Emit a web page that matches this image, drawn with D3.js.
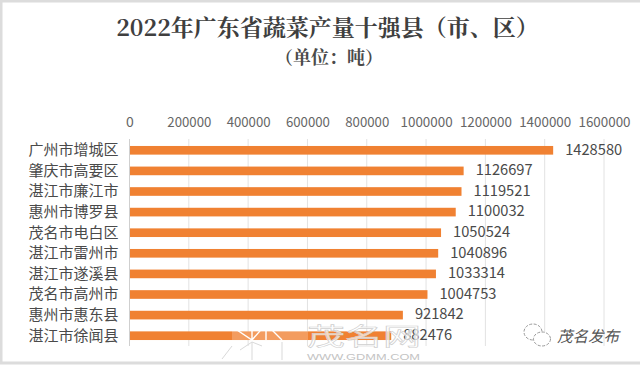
<!DOCTYPE html>
<html>
<head>
<meta charset="utf-8">
<script src="https://cdnjs.cloudflare.com/ajax/libs/d3/7.8.5/d3.min.js"></script>
<style>
html, body { margin: 0; padding: 0; background: #fff; }
svg { display: block; }
</style>
</head>
<body>
<script>
const counties = ["广州市增城区", "肇庆市高要区", "湛江市廉江市", "惠州市博罗县", "茂名市电白区", "湛江市雷州市", "湛江市遂溪县", "茂名市高州市", "惠州市惠东县", "湛江市徐闻县"];
const output = [1428580, 1126697, 1119521, 1100032, 1050524, 1040896, 1033314, 1004753, 921842, 882476];
const xTicks = [0, 200000, 400000, 600000, 800000, 1000000, 1200000, 1400000, 1600000];

const width = 640;
const height = 365;
const sans = "'Noto Sans CJK SC', sans-serif";
const serif = "'Noto Serif CJK SC', 'Noto Sans CJK SC', serif";
const barColor = "#f08132";
const textColor = "#4a4a4a";

const svg = d3.select("body").append("svg")
    .attr("width", width)
    .attr("height", height);

// 外枠 (上・左・下のみ)
svg.append("path")
    .attr("d", `M${width},1H1V${height - 2}H${width}`)
    .attr("fill", "none")
    .attr("stroke", "#dcdcdc")
    .attr("stroke-width", 3);

// タイトル
svg.append("text")
    .attr("x", 327.5).attr("y", 36)
    .attr("text-anchor", "middle")
    .attr("font-family", serif)
    .attr("font-size", 23)
    .attr("font-weight", 700)
    .attr("fill", "#3f3f3f")
    .text("2022年广东省蔬菜产量十强县（市、区）");
svg.append("text")
    .attr("x", 329).attr("y", 64)
    .attr("text-anchor", "middle")
    .attr("font-family", serif)
    .attr("font-size", 18)
    .attr("font-weight", 700)
    .attr("fill", "#4a4a4a")
    .text("（单位：吨）");

// スケール
const xScale = d3.scaleLinear().domain([0, 1600000]).range([129.5, 604]);
const yScale = d3.scaleBand().domain(counties).range([140, 346]).paddingInner(0.58).paddingOuter(0.29);

// 軸
const xAxis = d3.axisTop(xScale).tickValues(xTicks).tickFormat(d3.format("d")).tickSize(0).tickPadding(0);
const gx = svg.append("g")
    .attr("transform", "translate(0,127)")
    .call(xAxis);
gx.select(".domain").remove();
gx.selectAll("text")
    .attr("font-family", sans)
    .attr("font-size", 14)
    .attr("fill", "#666")
    .attr("textLength", d => d === 0 ? null : (d >= 1000000 ? 52 : 44))
    .attr("lengthAdjust", "spacingAndGlyphs");

// グリッド線
svg.append("g").selectAll("line")
    .data(xTicks)
    .join("line")
    .attr("x1", d => xScale(d)).attr("x2", d => xScale(d))
    .attr("y1", 139).attr("y2", 346)
    .attr("stroke", d => d === 0 ? "#cfcfcf" : "#e2e2e2")
    .attr("stroke-width", 1);

// 棒
svg.append("g").selectAll("rect")
    .data(output)
    .join("rect")
    .attr("x", xScale(0) + 0.5)
    .attr("y", (d, i) => yScale(counties[i]))
    .attr("width", d => xScale(d) - xScale(0) - 0.5)
    .attr("height", yScale.bandwidth())
    .attr("fill", barColor);

// カテゴリラベル
const yAxis = d3.axisLeft(yScale).tickSize(0).tickPadding(11);
const gy = svg.append("g")
    .attr("transform", `translate(${xScale(0)},0)`)
    .call(yAxis);
gy.select(".domain").remove();
gy.selectAll("text")
    .attr("font-family", sans)
    .attr("font-size", 15)
    .attr("fill", textColor);

// 値ラベル
svg.append("g").selectAll("text")
    .data(output)
    .join("text")
    .attr("x", d => xScale(d) + 12)
    .attr("y", (d, i) => yScale(counties[i]) + yScale.bandwidth() / 2 - 1)
    .attr("dy", "0.35em")
    .attr("font-family", sans)
    .attr("font-size", 15)
    .attr("fill", textColor)
    .attr("textLength", d => String(d).length * 8.15)
    .attr("lengthAdjust", "spacingAndGlyphs")
    .text(d => d);

// 透かしロゴ
const logo = svg.append("g")
    .attr("fill", "none")
    .attr("stroke", "#fff")
    .attr("stroke-width", 1.4);
logo.append("rect")
    .attr("x", 232).attr("y", 331).attr("width", 76).attr("height", 9)
    .attr("fill", "#fff").attr("fill-opacity", 0.22).attr("stroke", "none");
logo.append("path").attr("d", "M234,328L252,340L266,324L282,340M252,324V340M266,324V340");
logo.append("path")
    .attr("stroke", "#d9d9d9")
    .attr("stroke-width", 1)
    .attr("d", "M222,359L232,346M252,342V360M282,342V360M262,346L252,342L240,350");

// 透かし文字
svg.append("text")
    .attr("x", 307).attr("y", 345)
    .attr("font-family", sans)
    .attr("font-size", 24)
    .attr("textLength", 114)
    .attr("lengthAdjust", "spacingAndGlyphs")
    .attr("fill", "#fff")
    .attr("fill-opacity", 0.7)
    .attr("stroke", "#cfcfcf")
    .attr("stroke-width", 0.6)
    .text("茂名网");
svg.append("text")
    .attr("x", 307).attr("y", 360)
    .attr("font-family", "'Liberation Sans', sans-serif")
    .attr("font-size", 9.5)
    .attr("textLength", 113)
    .attr("lengthAdjust", "spacingAndGlyphs")
    .attr("fill", "#c4c4c4")
    .text("WWW.GDMM.COM");

// 微信アイコン
const wechat = svg.append("g")
    .attr("fill", "#fff")
    .attr("stroke", "#9a9a9a")
    .attr("stroke-width", 1)
    .attr("stroke-dasharray", "3 1.5");
wechat.append("ellipse").attr("cx", 533).attr("cy", 332).attr("rx", 9).attr("ry", 8);
wechat.append("ellipse").attr("cx", 542).attr("cy", 339).attr("rx", 8.5).attr("ry", 7);
svg.append("text")
    .attr("x", 557).attr("y", 342)
    .attr("font-family", sans)
    .attr("font-size", 15.5)
    .attr("font-style", "italic")
    .attr("fill", "#555")
    .text("茂名发布");
</script>
</body>
</html>
